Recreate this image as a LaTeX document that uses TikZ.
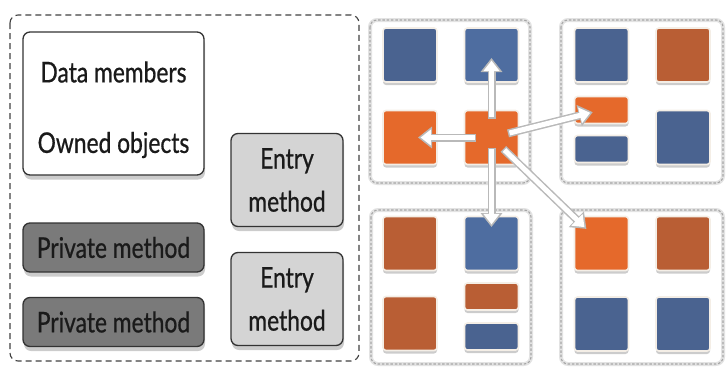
\documentclass[tikz,border=0pt]{standalone}
\usepackage{fontspec}
\setmainfont{Lato}[FakeStretch=0.8, FakeBold=0.7]
\usetikzlibrary{arrows.meta,shadows}
\definecolor{cblue}{HTML}{4A6390}
\definecolor{chblue}{HTML}{4E6DA0}
\definecolor{corange}{HTML}{E5692B}
\definecolor{cbrown}{HTML}{B95E34}
\definecolor{cedge}{HTML}{F4EEE6}
\definecolor{ctext}{HTML}{1A1A1A}
\begin{document}
\begin{tikzpicture}[x=1pt,y=-1pt,
  bigtxt/.style={font=\fontsize{28.5}{43}\selectfont, text=ctext, align=center, inner sep=0pt},
  boxbase/.style={rounded corners=7pt, line width=1.3pt, draw=black!80,
     drop shadow={opacity=0.4, shadow xshift=1pt, shadow yshift=-4.5pt}},
  databox/.style={boxbase, fill=white, minimum width=181pt, minimum height=143pt},
  entrybox/.style={boxbase, fill=black!17, minimum width=112pt, minimum height=93pt, bigtxt},
  privbox/.style={boxbase, fill=black!52, minimum width=181pt, minimum height=49pt, bigtxt},
  sq/.style={rounded corners=3pt, draw=cedge, line width=1.6pt, minimum width=54pt, minimum height=54pt,
     inner sep=0pt, drop shadow={opacity=0.4, shadow xshift=0pt, shadow yshift=-3pt}},
  bar/.style={sq, minimum height=27pt},
  gframe/.style={rounded corners=7pt, draw=gray!70, line width=1.1pt, dash pattern=on 2.5pt off 1.8pt,
     preaction={draw=gray!22, line width=4pt, solid}},
  lframe/.style={rounded corners=8pt, draw=black!75, line width=1.1pt, dash pattern=on 6pt off 4pt},
  arrout/.style={draw=gray!55, line width=8pt, -{Triangle[length=14pt,width=21pt]}},
  arrin/.style={draw=white, line width=5pt, -{Triangle[length=10.5pt,width=15.5pt]}}
]
\useasboundingbox (0,0) rectangle (726,367);

% ---------- left panel ----------
\draw[lframe] (10,15) rectangle (359,361);

\node[databox] (dm) at (113.5,103.5) {};
\node[bigtxt] (dmt1) at (113.5,72) {Data members};
\node[bigtxt] (dmt2) at (113.5,145) {Owned objects};

\node[entrybox] (em1) at (287,180) {Entry\\method};
\node[entrybox] (em2) at (287,299) {Entry\\method};

\node[privbox] (pm1) at (113.5,247.5) {Private method};
\node[privbox] (pm2) at (113.5,322) {Private method};

% ---------- right panel: group frames ----------
\draw[gframe] (370,20) rectangle (530,183);
\draw[gframe] (561,20) rectangle (723,183);
\draw[gframe] (371,210) rectangle (531,364);
\draw[gframe] (561,210) rectangle (723,364);

% group 1
\node[sq, fill=cblue]   (g1a) at (410,55) {};
\node[sq, fill=chblue]  (g1b) at (491.5,55) {};
\node[sq, fill=corange] (g1c) at (410,137.5) {};
\node[sq, fill=corange] (g1d) at (491.5,137.5) {};
% group 2
\node[sq, fill=cblue]   (g2a) at (601.5,55) {};
\node[sq, fill=cbrown]  (g2b) at (683,55) {};
\node[bar, fill=corange] (g2c) at (601.5,110) {};
\node[bar, fill=cblue]  (g2d) at (601.5,149) {};
\node[sq, fill=cblue]   (g2e) at (683,137.5) {};
% group 3
\node[sq, fill=cbrown]  (g3a) at (410,243.5) {};
\node[sq, fill=chblue]  (g3b) at (491.5,243.5) {};
\node[sq, fill=cbrown]  (g3c) at (410,323.5) {};
\node[bar, fill=cbrown] (g3d) at (491.5,296.5) {};
\node[bar, fill=cblue]  (g3e) at (491.5,336.5) {};
% group 4
\node[sq, fill=corange] (g4a) at (601.5,243.5) {};
\node[sq, fill=cbrown]  (g4b) at (683,243.5) {};
\node[sq, fill=cblue]   (g4c) at (601.5,324) {};
\node[sq, fill=cblue]   (g4d) at (683,324) {};

% ---------- arrows ----------
\foreach \t/\s/\e in {g1b/19/3, g1c/15.5/8, g2c/17/9, g3b/10/16.5, g4a/16.5/21}{
  \pgfmathsetmacro{\si}{\s+1.5}
  \pgfmathsetmacro{\ei}{\e+2.6}
  \draw[arrout, shorten <=\s pt, shorten >=\e pt] (g1d.center) -- (\t.center);
  \draw[arrin, shorten <=\si pt, shorten >=\ei pt] (g1d.center) -- (\t.center);
}
\end{tikzpicture}
\end{document}
